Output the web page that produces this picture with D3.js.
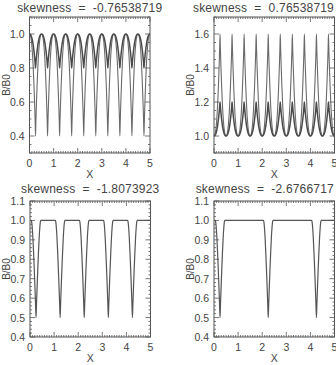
<!DOCTYPE html>
<html><head><meta charset="utf-8">
<script src="https://cdn.jsdelivr.net/npm/d3@7"></script>
<style>
html,body{margin:0;padding:0;background:#fff;}
svg text{font-family:"Liberation Sans","DejaVu Sans",sans-serif;fill:#444;}
</style></head>
<body><svg id="c" width="336" height="365"></svg>
<script>
// ---- data ----
const panelTitles = ["skewness = -0.76538719", "skewness = 0.76538719", "skewness = -1.8073923", "skewness = -2.6766717"];
const xTickLabels = ["0", "1", "2", "3", "4", "5"];
const yTicksTL = [0.4, 0.6, 0.8, 1.0];
const yTicksTR = [1.0, 1.2, 1.4, 1.6];
const yTicksB = [0.4, 0.5, 0.6, 0.7, 0.8, 0.9, 1.0, 1.1];
const yDomainTL = [0.3, 1.1];
const yDomainTR = [0.9, 1.7];
const yDomainB = [0.4, 1.1];
// dip positions (x) of each curve
const dipCentersTop = [0.25, 0.75, 1.25, 1.75, 2.25, 2.75, 3.25, 3.75, 4.25, 4.75];
const dipCentersBL = [0.25, 1.25, 2.25, 3.25, 4.25];
const dipCentersBR = [0.25, 2.25, 4.25];
// extreme values of each curve (B/B0 at dip/peak)
const extremeTLthin = 0.4, extremeTLthick = 0.8;
const extremeTRthin = 1.6, extremeTRthick = 1.2;
const extremeBL = 0.5, extremeBR = 0.5;
const topProfileU = [0, 0.015, 0.03, 0.05, 0.07, 0.09, 0.11, 0.14, 0.17, 0.21, 0.25];
const topProfileF = [1, 0.86, 0.74, 0.6, 0.47, 0.36, 0.26, 0.15, 0.07, 0.015, 0];
const botProfileU = [0, 0.02, 0.04, 0.07, 0.1, 0.13, 0.155, 0.175, 0.19, 0.2];
const botProfileF = [1, 0.86, 0.72, 0.52, 0.34, 0.18, 0.08, 0.025, 0.005, 0];

function buildSeries(centers, pu, pf, extreme) {
  const pts = [];
  const depth = extreme - 1;
  centers.forEach(c => {
    for (let i = pu.length - 1; i > 0; i--) pts.push([c - pu[i], 1 + depth * pf[i]]);
    for (let i = 0; i < pu.length; i++) pts.push([c + pu[i], 1 + depth * pf[i]]);
  });
  const out = [];
  if (pts[0][0] > 0) out.push([0, 1]);
  pts.forEach(p => { if (p[0] >= 0 && p[0] <= 5) out.push(p); });
  if (out[out.length - 1][0] < 5) out.push([5, 1]);
  return out;
}

const panels = [
  {x0: 29.5, y0: 17, titleY: 12, title: panelTitles[0], right: false, yDom: yDomainTL, yTicks: yTicksTL, yMinor: 0.05,
   series: [buildSeries(dipCentersTop, topProfileU, topProfileF, extremeTLthin), buildSeries(dipCentersTop, topProfileU, topProfileF, extremeTLthick)]},
  {x0: 214, y0: 17, titleY: 12, title: panelTitles[1], right: true, yDom: yDomainTR, yTicks: yTicksTR, yMinor: 0.05,
   series: [buildSeries(dipCentersTop, topProfileU, topProfileF, extremeTRthin), buildSeries(dipCentersTop, topProfileU, topProfileF, extremeTRthick)]},
  {x0: 30, y0: 201, titleY: 192.5, title: panelTitles[2], right: false, yDom: yDomainB, yTicks: yTicksB, yMinor: 0.02,
   series: [buildSeries(dipCentersBL, botProfileU, botProfileF, extremeBL)]},
  {x0: 214, y0: 201, titleY: 192.5, title: panelTitles[3], right: true, yDom: yDomainB, yTicks: yTicksB, yMinor: 0.02,
   series: [buildSeries(dipCentersBR, botProfileU, botProfileF, extremeBR)]}
];

const W = 120.5, H = 136;
const svg = d3.select("#c");
const axCol = "#555";
const fmt = d3.format(".1f");

panels.forEach(p => {
  const g = svg.append("g");
  const x = d3.scaleLinear().domain([0, 5]).range([p.x0, p.x0 + W]);
  const y = d3.scaleLinear().domain(p.yDom).range([p.y0 + H, p.y0]);

  // curves
  const line = d3.line().x(d => x(d[0])).y(d => y(d[1])).curve(d3.curveMonotoneX);
  if (p.series.length === 2) {
    g.append("path").attr("d", line(p.series[0])).attr("fill", "none").attr("stroke", "#6a6a6a").attr("stroke-width", 1.1);
    g.append("path").attr("d", line(p.series[1])).attr("fill", "none").attr("stroke", "#4a4a4a").attr("stroke-width", 1.5);
  } else {
    g.append("path").attr("d", line(p.series[0])).attr("fill", "none").attr("stroke", "#555").attr("stroke-width", 1.2);
  }

  // box
  g.append("rect").attr("x", p.x0).attr("y", p.y0).attr("width", W).attr("height", H)
    .attr("fill", "none").attr("stroke", axCol).attr("stroke-width", 1);

  // x ticks (bottom and top)
  const xMinor = d3.range(0, 5.0001, 0.1);
  xMinor.forEach(v => {
    const isMajor = Math.abs(v - Math.round(v)) < 1e-6;
    const L = isMajor ? 5 : 2;
    g.append("line").attr("x1", x(v)).attr("x2", x(v)).attr("y1", p.y0 + H).attr("y2", p.y0 + H - L).attr("stroke", axCol).attr("stroke-width", 0.8);
    g.append("line").attr("x1", x(v)).attr("x2", x(v)).attr("y1", p.y0).attr("y2", p.y0 + L).attr("stroke", axCol).attr("stroke-width", 0.8);
  });
  // y ticks (left and right)
  const yMinor = d3.range(p.yDom[0], p.yDom[1] + 1e-6, p.yMinor);
  yMinor.forEach(v => {
    const isMajor = p.yTicks.some(t => Math.abs(t - v) < 1e-6);
    const L = isMajor ? 5 : 2;
    g.append("line").attr("x1", p.x0).attr("x2", p.x0 + L).attr("y1", y(v)).attr("y2", y(v)).attr("stroke", axCol).attr("stroke-width", 0.8);
    g.append("line").attr("x1", p.x0 + W).attr("x2", p.x0 + W - L).attr("y1", y(v)).attr("y2", y(v)).attr("stroke", axCol).attr("stroke-width", 0.8);
  });

  // labels
  xTickLabels.forEach((t, i) => {
    g.append("text").attr("x", x(i)).attr("y", p.y0 + H + 14).attr("text-anchor", "middle").attr("font-size", 10.5).text(t);
  });
  p.yTicks.forEach(t => {
    g.append("text").attr("x", p.x0 - 5).attr("y", y(t) + 4).attr("text-anchor", "end").attr("font-size", 10.5).text(fmt(t));
  });
  g.append("text").attr("x", p.x0 + W / 2).attr("y", p.y0 + H + 25).attr("text-anchor", "middle").attr("font-size", 10.5).text("X");
  g.append("text").attr("transform", `translate(${p.x0 - 20},${p.y0 + H / 2}) rotate(-90)`).attr("text-anchor", "middle").attr("font-size", 10).text("B/B0");
  const tt = g.append("text").attr("y", p.titleY).attr("font-size", 12).attr("letter-spacing", 0.2)
    .attr("xml:space", "preserve").text(p.title.replace(" = ", "  =  "));
  if (p.right) tt.attr("x", 334).attr("text-anchor", "end");
  else tt.attr("x", p.x0 + W / 2).attr("text-anchor", "middle");
});
</script>
</body></html>
